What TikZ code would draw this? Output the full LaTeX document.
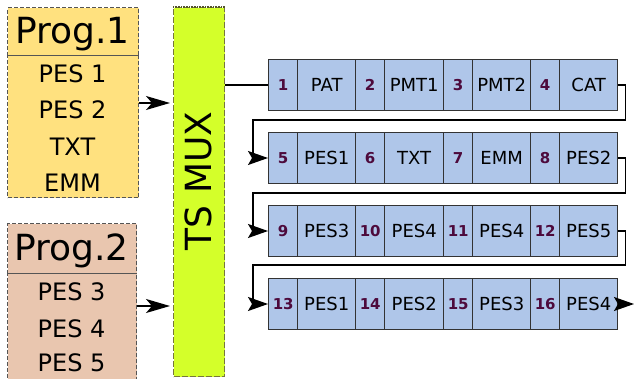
\documentclass[tikz,border=0pt]{standalone}
\usepackage{fontspec}
\setmainfont{DejaVu Sans}
\usetikzlibrary{arrows.meta,calc}
\definecolor{progA}{HTML}{FFE17F}
\definecolor{progB}{HTML}{E9C6AF}
\definecolor{muxfill}{HTML}{D4FF2A}
\definecolor{cellfill}{HTML}{AFC6E9}
\definecolor{cellline}{HTML}{333333}
\definecolor{numcol}{HTML}{4D0A3C}
\definecolor{dashcol}{HTML}{555555}
\definecolor{muxline}{HTML}{77773A}
\begin{document}
\begin{tikzpicture}[x=1pt,y=-1pt,
  progbox/.style={draw=dashcol, line width=1.3pt, dash pattern=on 4pt off 2pt, inner sep=0pt, anchor=north west, minimum width=131pt},
  progtitle/.style={font=\fontsize{36}{40}\selectfont, inner sep=0pt, anchor=base},
  progitem/.style={font=\fontsize{24}{28}\selectfont, inner sep=0pt, anchor=base},
  muxbox/.style={draw=muxline, fill=muxfill, line width=1.1pt, dash pattern=on 6pt off 2pt, inner sep=0pt, anchor=north west},
  cell/.style={draw=cellline, fill=cellfill, line width=1.4pt, minimum height=51pt, inner sep=0pt, anchor=west},
  numcell/.style={cell, minimum width=29pt, font=\fontsize{15}{17}\selectfont\bfseries, text=numcol},
  namecell/.style={cell, font=\fontsize{18}{20}\selectfont},
  conn/.style={line width=1.4pt, draw=black},
  tip/.style={-{Stealth[length=20pt,width=14pt,inset=4pt]}},
  ptip/.style={-{Stealth[length=24pt,width=14pt,inset=6pt]}, shorten >=3pt},
]
\useasboundingbox (0,0) rectangle (634,378);

% Program 1
\node[progbox, fill=progA, minimum height=48pt] (p1h) at (7,7) {};
\node[progbox, fill=progA, minimum height=142pt] (p1b) at (7,55) {};
\node[progtitle] (p1t) at (72.5,43) {Prog.1};
\node[progitem] (p1a) at (72.5,82) {PES 1};
\node[progitem] (p1c) at (72.5,118) {PES 2};
\node[progitem] (p1d) at (72.5,155) {TXT};
\node[progitem] (p1e) at (72.5,191) {EMM};

% Program 2
\node[progbox, fill=progB, minimum width=129pt, minimum height=50pt] (p2h) at (7,223) {};
\node[progbox, fill=progB, minimum width=129pt, minimum height=110pt] (p2b) at (7,273) {};
\node[progtitle] (p2t) at (71.5,260) {Prog.2};
\node[progitem] (p2a) at (71.5,300) {PES 3};
\node[progitem] (p2c) at (71.5,337) {PES 4};
\node[progitem] (p2d) at (71.5,371) {PES 5};

% MUX
\node[muxbox, minimum width=51pt, minimum height=369pt] (mux) at (173,7) {};
\draw[muxline!70!black, line width=2pt, dash pattern=on 1pt off 0.6pt] (mux.north west) -- (mux.north east);
\node[rotate=90, font=\fontsize{36}{40}\selectfont, inner sep=0pt] (muxt) at (198,181) {TS MUX};

% arrows into MUX
\coordinate (ya) at (0,103);
\coordinate (yb) at (0,306);
\draw[conn,ptip] (p1b.east |- ya) -- (mux.west |- ya);
\draw[conn,ptip] (p2b.east |- yb) -- (mux.west |- yb);

% packet rows
\foreach \rw/\yy/\na/\nb/\nc/\nd/\ne/\nf/\ng/\nh in {
  1/85/1/PAT/2/PMT1/3/PMT2/4/CAT,
  2/158/5/PES1/6/TXT/7/EMM/8/PES2,
  3/231/9/PES3/10/PES4/11/PES4/12/PES5,
  4/304/13/PES1/14/PES2/15/PES3/16/PES4}{
  \node[numcell] (r\rw c1) at (268,\yy) {\na};
  \node[namecell, minimum width=58pt] (r\rw c2) at (297,\yy) {\nb};
  \node[numcell] (r\rw c3) at (355,\yy) {\nc};
  \node[namecell, minimum width=59pt] (r\rw c4) at (384,\yy) {\nd};
  \node[numcell] (r\rw c5) at (443,\yy) {\ne};
  \node[namecell, minimum width=58pt] (r\rw c6) at (472,\yy) {\nf};
  \node[numcell] (r\rw c7) at (530,\yy) {\ng};
  \node[namecell, minimum width=58pt] (r\rw c8) at (559,\yy) {\nh};
}

% connectors
\draw[conn] (mux.east |- r1c1.west) -- (r1c1.west);
\coordinate (k1) at (253,120);
\coordinate (k2) at (253,193);
\coordinate (k3) at (253,265);
\coordinate (fin) at (634,304);
\draw[conn,tip] (r1c8.east) -- ++(7,0) |- (k1) |- (r2c1.west);
\draw[conn,tip] (r2c8.east) -- ++(7,0) |- (k2) |- (r3c1.west);
\draw[conn,tip] (r3c8.east) -- ++(7,0) |- (k3) |- (r4c1.west);
\draw[conn,tip] (r4c8.east) -- (fin);
\end{tikzpicture}
\end{document}
